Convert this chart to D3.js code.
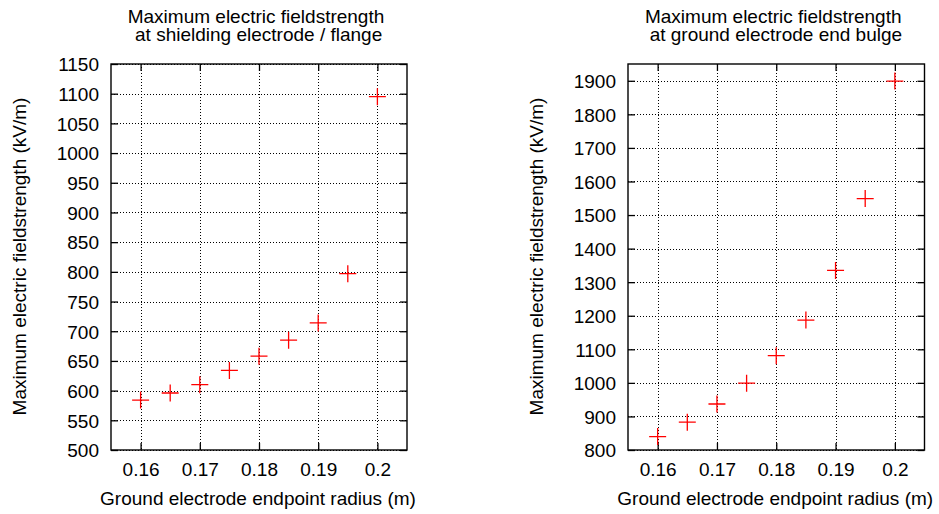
<!DOCTYPE html>
<html>
<head>
<meta charset="utf-8">
<script src="https://cdn.jsdelivr.net/npm/d3@7"></script>
<style>
  html, body { margin: 0; padding: 0; background: #fff; }
  svg { display: block; font-family: "Liberation Sans", Arial, Helvetica, sans-serif; }
</style>
</head>
<body>
<svg id="chart" width="939" height="514"></svg>
<script>
// Ground electrode endpoint radius (m)
const radii = [0.16, 0.165, 0.17, 0.175, 0.18, 0.185, 0.19, 0.195, 0.2];

// Maximum field strength (kV/m) at the shielding electrode / flange
const flangeField = [584, 596, 610, 634, 658, 685, 714, 797, 1095];

// Maximum field strength (kV/m) at the ground electrode end bulge
const bulgeField = [840, 883, 937, 999, 1081, 1187, 1335, 1549, 1899];

const xTicks = [0.16, 0.17, 0.18, 0.19, 0.2];
const xTickLabels = ["0.16", "0.17", "0.18", "0.19", "0.2"];
const flangeTicks = [500, 550, 600, 650, 700, 750, 800, 850, 900, 950, 1000, 1050, 1100, 1150];
const bulgeTicks = [800, 900, 1000, 1100, 1200, 1300, 1400, 1500, 1600, 1700, 1800, 1900];

const titleLine1 = "Maximum electric fieldstrength";
const flangeTitle2 = "\u00a0at shielding electrode / flange";
const bulgeTitle2 = "\u00a0at ground electrode end bulge";
const xLabel = "Ground electrode endpoint radius (m)";
const yLabel = "Maximum electric fieldstrength (kV/m)";

const svg = d3.select("#chart");
const FONT = 19;
const TICK = 7;

function panel(opts) {
  const { left, right, top, bottom, yDomain, yTicks, values, title2 } = opts;
  const x = d3.scaleLinear().domain([0.155, 0.205]).range([left, right]);
  const y = d3.scaleLinear().domain(yDomain).range([bottom, top]);
  const g = svg.append("g");

  // dotted grid
  const grid = g.append("g")
    .attr("stroke", "#000").attr("stroke-width", 1)
    .attr("stroke-dasharray", "1,2").attr("shape-rendering", "crispEdges");
  grid.selectAll("line.gx").data(xTicks).join("line")
    .attr("x1", d => Math.round(x(d)) + 0.5).attr("x2", d => Math.round(x(d)) + 0.5)
    .attr("y1", top).attr("y2", bottom);
  grid.selectAll("line.gy").data(yTicks).join("line")
    .attr("y1", d => Math.round(y(d)) + 0.5).attr("y2", d => Math.round(y(d)) + 0.5)
    .attr("x1", left).attr("x2", right);

  const fmtX = d => xTickLabels[xTicks.indexOf(d)];

  function styleAxis(sel) {
    sel.select(".domain").remove();
    sel.selectAll(".tick line").attr("stroke", "#000").attr("stroke-width", 1.3);
    sel.selectAll(".tick text")
      .attr("fill", "#000")
      .attr("font-size", FONT)
      .attr("font-family", "Liberation Sans, Arial, Helvetica, sans-serif");
  }

  // tick marks on all four sides, pointing inward
  g.append("g").attr("transform", `translate(0,${bottom})`)
    .call(d3.axisBottom(x).tickValues(xTicks).tickFormat(fmtX).tickSize(-TICK).tickPadding(13))
    .call(styleAxis);
  g.append("g").attr("transform", `translate(0,${top})`)
    .call(d3.axisTop(x).tickValues(xTicks).tickFormat("").tickSize(-TICK))
    .call(styleAxis);
  g.append("g").attr("transform", `translate(${left},0)`)
    .call(d3.axisLeft(y).tickValues(yTicks).tickFormat(d3.format("d")).tickSize(-TICK).tickPadding(12))
    .call(styleAxis)
    .selectAll(".tick text").attr("dy", "0.36em");
  g.append("g").attr("transform", `translate(${right},0)`)
    .call(d3.axisRight(y).tickValues(yTicks).tickFormat("").tickSize(-TICK))
    .call(styleAxis);

  // frame
  g.append("rect")
    .attr("x", left).attr("y", top)
    .attr("width", right - left).attr("height", bottom - top)
    .attr("fill", "none").attr("stroke", "#000").attr("stroke-width", 1.4);

  // data points as "+" markers
  const pts = radii.map((r, i) => [r, values[i]]);
  const size = 8.5;
  const marks = g.append("g").attr("stroke", "#ff0000").attr("stroke-width", 1.3);
  marks.selectAll("path").data(pts).join("path")
    .attr("d", d => {
      const cx = x(d[0]), cy = y(d[1]);
      return `M${cx - size},${cy}H${cx + size}M${cx},${cy - size}V${cy + size}`;
    });

  // two-line title and axis labels
  const cx = (left + right) / 2 - 3;
  const t = g.append("text").attr("text-anchor", "middle").attr("font-size", FONT).attr("fill", "#000");
  t.append("tspan").attr("x", cx).attr("y", 23.3).text(titleLine1);
  t.append("tspan").attr("x", cx).attr("y", 40.8).text(title2);

  g.append("text").attr("text-anchor", "middle").attr("font-size", FONT).attr("fill", "#000")
    .attr("x", (left + right) / 2 - 1).attr("y", 505).text(xLabel);

  g.append("text").attr("text-anchor", "middle").attr("font-size", FONT).attr("fill", "#000")
    .attr("transform", `translate(${left - 85},256.5) rotate(-90)`).text(yLabel);
}

panel({ left: 111, right: 407, top: 64, bottom: 450, yDomain: [500, 1150], yTicks: flangeTicks, values: flangeField, title2: flangeTitle2 });
panel({ left: 628, right: 924.5, top: 64, bottom: 450, yDomain: [800, 1950], yTicks: bulgeTicks, values: bulgeField, title2: bulgeTitle2 });
</script>
</body>
</html>
